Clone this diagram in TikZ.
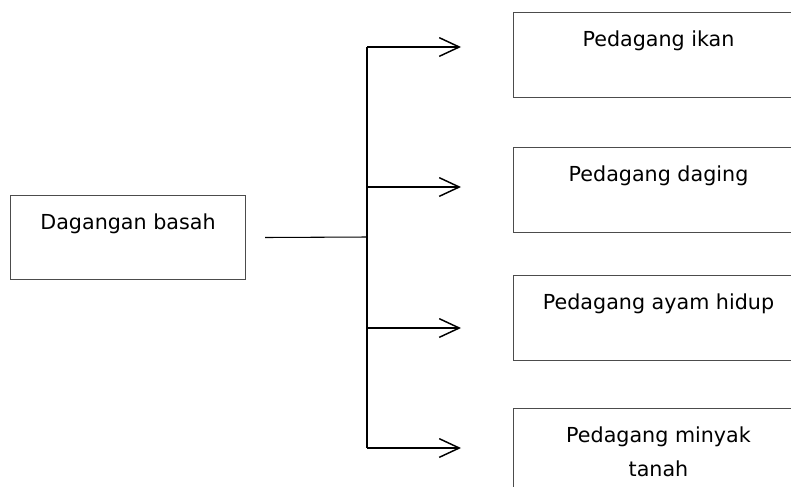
\documentclass[tikz,border=0pt]{standalone}
\usepackage{fontspec}
\setmainfont{DejaVu Sans}
\usetikzlibrary{arrows.meta}
\tikzset{
	kotak/.style={draw=black!70, line width=0.75pt, anchor=north west, minimum width=217.5pt, minimum height=63.75pt, inner sep=0pt},
	tulisan/.style={anchor=north, yshift=-14.1pt, inner sep=0pt, align=center, font=\fontsize{15.5pt}{25pt}\selectfont},
	garis/.style={line width=0.8pt, black},
	panah/.style={line width=1.1pt, black, -{Straight Barb[length=15pt, width=14pt, line width=1.1pt]}}
}

\begin{document}
\begin{tikzpicture}[x=0.75pt, y=-0.75pt]
			%%%%% START %%%%%
			
			\useasboundingbox (0,0) rectangle (791,486);
			\clip (0,0) rectangle (791,486);
			
			\node[kotak, minimum width=176.25pt, minimum height=63pt, label={[tulisan]north:Dagangan basah}] (basah) at (10,195) {};
			
			\node[kotak, label={[tulisan]north:Pedagang ikan}] (ikan) at (513,12) {};
			\node[kotak, label={[tulisan]north:Pedagang daging}] (daging) at (513,147) {};
			\node[kotak, label={[tulisan]north:Pedagang ayam hidup}] (ayam) at (513,275) {};
			\node[kotak, label={[tulisan]north:Pedagang minyak\\tanah}] (minyak) at (513,408) {};
			
			\coordinate (cabang) at (367,237);
			\draw[garis] ([xshift=14.25pt]basah.east) -- (cabang);
			
			\foreach \y [count=\i] in {47,187,328,448}{
				\coordinate (a\i) at (367,\y);
				\coordinate (b\i) at (461,\y);
				\draw[panah] (a\i) -- (b\i);
			}
			\draw[garis] (a1) -- (a4);
			
			%%%%% END %%%%%
\end{tikzpicture}
\end{document}
